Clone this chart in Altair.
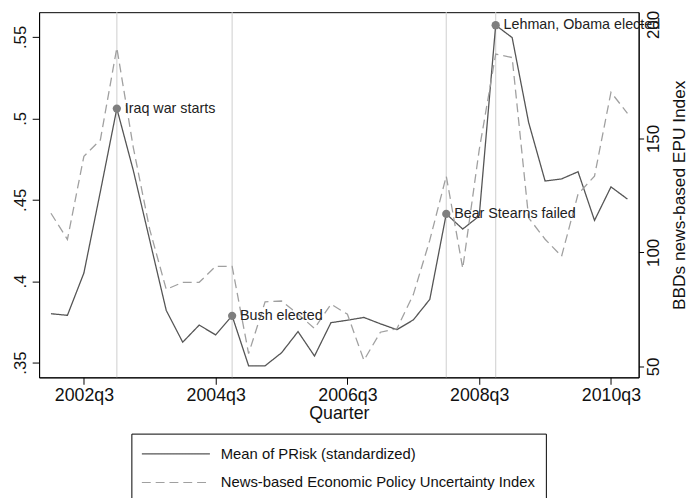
import altair as alt
import pandas as pd

quarters = ["2002q1", "2002q2", "2002q3", "2002q4", "2003q1", "2003q2", "2003q3", "2003q4",
            "2004q1", "2004q2", "2004q3", "2004q4", "2005q1", "2005q2", "2005q3", "2005q4",
            "2006q1", "2006q2", "2006q3", "2006q4", "2007q1", "2007q2", "2007q3", "2007q4",
            "2008q1", "2008q2", "2008q3", "2008q4", "2009q1", "2009q2", "2009q3", "2009q4",
            "2010q1", "2010q2", "2010q3", "2010q4"]
prisk = [0.380, 0.379, 0.405, 0.455, 0.506, 0.468, 0.425, 0.382,
         0.3625, 0.373, 0.367, 0.3787, 0.348, 0.348, 0.356, 0.369,
         0.354, 0.3745, 0.376, 0.3777, 0.3738, 0.3702, 0.3762, 0.3888,
         0.4413, 0.432, 0.440, 0.5572, 0.5496, 0.4975, 0.4615, 0.4628,
         0.4672, 0.4373, 0.4579, 0.4504]
epu = [117.2, 105.7, 142.2, 149.4, 189.8, 146.0, 110.0, 83.8,
       86.9, 86.9, 93.9, 93.9, 55.6, 78.3, 78.7, 72.9,
       66.7, 77.3, 72.9, 52.7, 65.0, 66.5, 81.5, 105.4,
       133.5, 93.0, 145.0, 187.0, 185.5, 115.2, 105.8, 98.3,
       125.6, 133.5, 170.3, 161.0]
event_quarters = ["2003q1", "2004q4", "2008q1", "2008q4"]
event_labels = ["Iraq war starts", "Bush elected", "Bear Stearns failed", "Lehman, Obama elected"]
tick_quarters = ["2002q3", "2004q3", "2006q3", "2008q3", "2010q3"]
left_ticks = [0.35, 0.40, 0.45, 0.50, 0.55]
right_ticks = [50, 100, 150, 200]

S1 = "Mean of PRisk (standardized)"
S2 = "News-based Economic Policy Uncertainty Index"

df = pd.DataFrame({"t": list(range(len(quarters))), "quarter": quarters, "prisk": prisk, "epu": epu})
ev_t = [quarters.index(q) for q in event_quarters]
ev = pd.DataFrame({"t": ev_t, "label": event_labels, "prisk": [prisk[i] for i in ev_t]})
tick_vals = [quarters.index(q) for q in tick_quarters]
label_expr = " : ".join(f"datum.value == {v} ? '{q}'" for v, q in zip(tick_vals, tick_quarters)) + " : ''"

FONT = "Liberation Sans"
xscale = alt.Scale(domain=[-0.72, 35.68], nice=False, zero=False)
xaxis = alt.Axis(values=tick_vals, labelExpr=label_expr, title="Quarter", tickSize=7,
                 labelFontSize=18, labelPadding=2, titleFontSize=18, titlePadding=1, labelAngle=0)
lscale = alt.Scale(domain=[0.3409, 0.5652], nice=False, zero=False)
rscale = alt.Scale(domain=[45.2, 205.4], nice=False, zero=False)

# wide horizontal stroke symbol: path in unit box scaled by sqrt(size)/2
SYM = "M -3.5 0 L 3.5 0"
legend = alt.Legend(title=None, orient="none", legendX=93.5, legendY=427, direction="vertical",
                    strokeColor="black", fillColor="white", padding=10, symbolType=SYM,
                    symbolSize=388, symbolStrokeWidth=1.2, symbolOffset=24.6,
                    labelFontSize=15, labelOffset=35,
                    rowPadding=10, labelLimit=500, labelFont=FONT, labelColor="#111111")
color = alt.Color("series:N", scale=alt.Scale(domain=[S1, S2], range=["#555555", "#a0a0a0"]), legend=legend)
dash = alt.StrokeDash("series:N", scale=alt.Scale(domain=[S1, S2], range=[[1, 0], [9, 5]]), legend=legend)

base = alt.Chart(df)

rules = alt.Chart(ev).mark_rule(color="#d6d6d6", strokeWidth=1.2).encode(
    x=alt.X("t:Q", scale=xscale, axis=xaxis))

solid = base.transform_calculate(series=f"'{S1}'").mark_line(strokeWidth=1.3).encode(
    x=alt.X("t:Q", scale=xscale, axis=xaxis),
    y=alt.Y("prisk:Q", scale=lscale,
            axis=alt.Axis(orient="left", values=left_ticks,
                          labelExpr="substring(format(datum.value, '.2~f'), 1)",
                          labelAngle=270, labelAlign="center", labelBaseline="bottom",
                          tickSize=7, labelFontSize=17, labelPadding=3, title=None)),
    color=color, strokeDash=dash)

dashed = base.transform_calculate(series=f"'{S2}'").mark_line(strokeWidth=1.3).encode(
    x=alt.X("t:Q", scale=xscale, axis=xaxis),
    y=alt.Y("epu:Q", scale=rscale,
            axis=alt.Axis(orient="right", values=right_ticks, labelAngle=270,
                          labelAlign="center", labelBaseline="top",
                          tickSize=5, labelFontSize=17, labelPadding=2,
                          title="BBDs news-based EPU Index", titleAngle=270, titleX=41, titleY=185,
                          titleAlign="center", titleBaseline="middle", titleFontSize=17.5)),
    color=color, strokeDash=dash)

points = alt.Chart(ev).mark_circle(size=70, color="#7f7f7f", opacity=1).encode(
    x=alt.X("t:Q", scale=xscale, axis=xaxis),
    y=alt.Y("prisk:Q", scale=lscale, axis=None))

texts = alt.Chart(ev).mark_text(align="left", baseline="middle", dx=8, fontSize=14.5,
                                color="#222222", font=FONT).encode(
    x=alt.X("t:Q", scale=xscale, axis=xaxis),
    y=alt.Y("prisk:Q", scale=lscale, axis=None),
    text="label:N")

chart = alt.layer(rules, solid, dashed, points, texts).resolve_scale(y="independent").properties(
    width=607.5, height=370,
    autosize=alt.AutoSizeParams(type="none"),
    padding={"left": 31.5, "top": 1, "right": 50, "bottom": 120},
    background="white",
).configure_view(stroke="black", strokeWidth=1).configure_axis(
    domainColor="black", tickColor="black", labelColor="#111111", titleColor="#111111",
    grid=False, labelFont=FONT, titleFont=FONT, titleFontWeight="normal", domainWidth=1, tickWidth=1)

chart.save("out.html", embed_options={"renderer": "svg", "actions": False})
